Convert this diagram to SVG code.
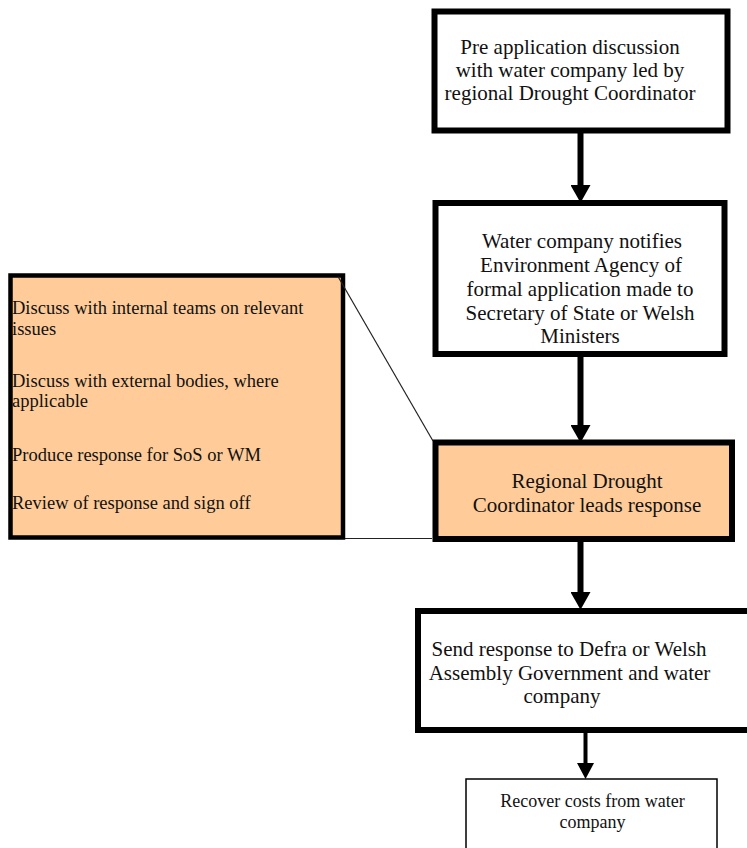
<svg xmlns="http://www.w3.org/2000/svg" width="747" height="848" viewBox="0 0 747 848">
<style>
  .box{fill:#ffffff;stroke:#000;stroke-width:6}
  .orange{fill:#ffcc99}
  .side{fill:#ffcc99;stroke:#000;stroke-width:4.5}
  .thin{fill:#ffffff;stroke:#000;stroke-width:1.5}
  .t{font-family:"Liberation Serif","Times New Roman",serif;font-size:21px;fill:#111;text-anchor:middle}
  .ts{font-family:"Liberation Serif","Times New Roman",serif;font-size:18.5px;fill:#111}
  .tsm{font-family:"Liberation Serif","Times New Roman",serif;font-size:18px;fill:#111;text-anchor:middle}
  .shaft{stroke:#000;stroke-width:6;fill:none}
  .shaft2{stroke:#000;stroke-width:4;fill:none}
  .link{stroke:#222;stroke-width:1.2;fill:none}
</style>
<defs>
  <marker id="head" markerUnits="userSpaceOnUse" markerWidth="18" markerHeight="20" refX="0" refY="9" orient="auto" viewBox="0 0 16 18">
    <path d="M0,0 L16,9 L0,18 z" fill="#000"/>
  </marker>
  <marker id="head2" markerUnits="userSpaceOnUse" markerWidth="16" markerHeight="18" refX="0" refY="8" orient="auto" viewBox="0 0 15 16">
    <path d="M0,0 L15,8 L0,16 z" fill="#000"/>
  </marker>
</defs>

<g id="node-pre">
  <rect class="box" x="434.5" y="11.5" width="293" height="119"/>
  <text class="t" x="570" y="54">Pre application discussion</text>
  <text class="t" x="570" y="77">with water company led by</text>
  <text class="t" x="570" y="100">regional Drought Coordinator</text>
</g>

<g id="node-notify">
  <rect class="box" x="435.5" y="203" width="289" height="151"/>
  <text class="t" x="582" y="248">Water company notifies</text>
  <text class="t" x="581" y="272">Environment Agency of</text>
  <text class="t" x="580" y="296">formal application made to</text>
  <text class="t" x="580" y="320">Secretary of State or Welsh</text>
  <text class="t" x="580" y="343">Ministers</text>
</g>

<g id="node-lead">
  <rect class="box orange" x="435.5" y="442.5" width="296.5" height="96.5"/>
  <text class="t" x="587" y="488">Regional Drought</text>
  <text class="t" x="587" y="512">Coordinator leads response</text>
</g>

<g id="node-tasks">
  <rect class="side" x="10.5" y="275.5" width="332.5" height="262"/>
  <text class="ts" x="12" y="314">Discuss with internal teams on relevant</text>
  <text class="ts" x="12" y="335">issues</text>
  <text class="ts" x="12" y="386.5">Discuss with external bodies, where</text>
  <text class="ts" x="12" y="407">applicable</text>
  <text class="ts" x="12" y="461">Produce response for SoS or WM</text>
  <text class="ts" x="12" y="509">Review of response and sign off</text>
</g>

<g id="node-send">
  <rect class="box" x="418" y="611" width="336" height="119"/>
  <text class="t" x="569" y="656">Send response to Defra or Welsh</text>
  <text class="t" x="569.5" y="680">Assembly Government and water</text>
  <text class="t" x="562" y="703">company</text>
</g>

<g id="node-recover">
  <rect class="thin" x="466" y="779" width="251" height="80"/>
  <text class="tsm" x="592.5" y="807">Recover costs from water</text>
  <text class="tsm" x="592.5" y="828">company</text>
</g>

<g id="connectors">
  <line class="shaft" x1="580.5" y1="133" x2="580.5" y2="185" marker-end="url(#head)"/>
  <line class="shaft" x1="580.5" y1="357" x2="580.5" y2="425" marker-end="url(#head)"/>
  <line class="shaft" x1="580.5" y1="542" x2="580.5" y2="592" marker-end="url(#head)"/>
  <line class="shaft2" x1="585.5" y1="733" x2="585.5" y2="763" marker-end="url(#head2)"/>
  <line class="link" x1="338" y1="276.5" x2="433" y2="441"/>
  <line class="link" x1="345" y1="538.5" x2="432" y2="538.5"/>
</g>
</svg>
